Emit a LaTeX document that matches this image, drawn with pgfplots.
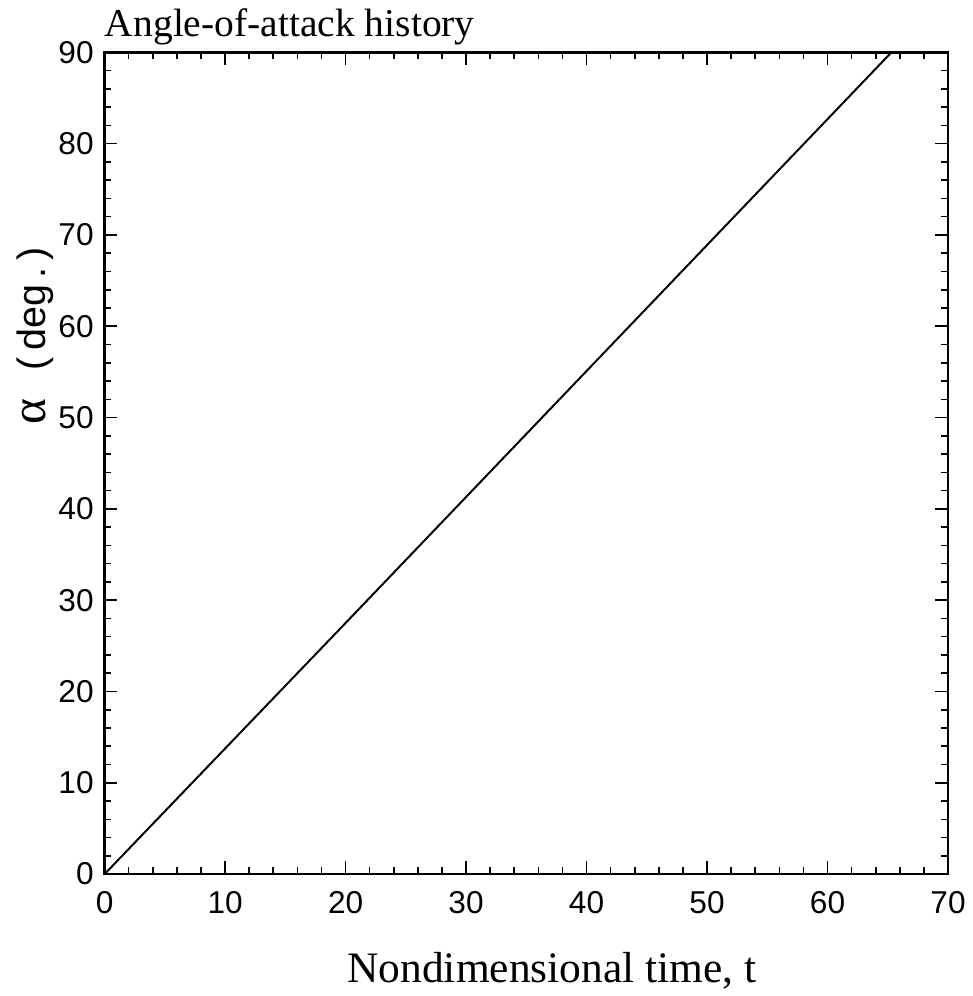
\documentclass[border=0pt]{standalone}
\usepackage{fontspec}
\setmainfont{Liberation Serif}
\setsansfont{Liberation Sans}
\usepackage{pgfplots}
\pgfplotsset{compat=1.18}

\begin{document}
\begin{tikzpicture}
\begin{axis}[
    scale only axis,
    width=427pt,
    height=416pt,
    xmin=0, xmax=70,
    ymin=0, ymax=90,
    xtick={0,10,...,70},
    ytick={0,10,...,90},
    minor x tick num=4,
    minor y tick num=4,
    tick align=inside,
    major tick length=6.5pt,
    minor tick length=3.5pt,
    tick style={black, line width=0.8pt},
    axis line style={line width=1.3pt},
    /pgf/number format/assume math mode=true,
    ticklabel style={font=\sffamily\fontsize{16}{16}\selectfont},
    xticklabel style={yshift=-5pt},
    yticklabel style={xshift=-2pt},
    xlabel={Nondimensional time, t},
    xlabel style={font=\fontsize{22}{22}\selectfont, yshift=-13pt, xshift=13pt},
    ylabel={{\fontsize{25}{25}\selectfont α}\hspace{14pt}{\sffamily\fontsize{20}{20}\selectfont (\,deg\,.\,)}},
    every axis y label/.style={at={(ticklabel cs:0.655)}, rotate=90, anchor=south, inner sep=0pt, yshift=-1pt},
    clip=false,
]
\addplot[black, line width=1pt] coordinates {
    (0,0)
    (20,27.5)
    (40,55.1)
    (65.3,90)
};
\node[anchor=base west, font=\fontsize{20}{20}\selectfont, inner sep=0pt]
    at (rel axis cs:0,1) [yshift=8pt] {Angle-of-attack history};
\path (rel axis cs:-0.124,-0.1334) rectangle (rel axis cs:1.0246,1.0637);
\end{axis}
\end{tikzpicture}
\end{document}
